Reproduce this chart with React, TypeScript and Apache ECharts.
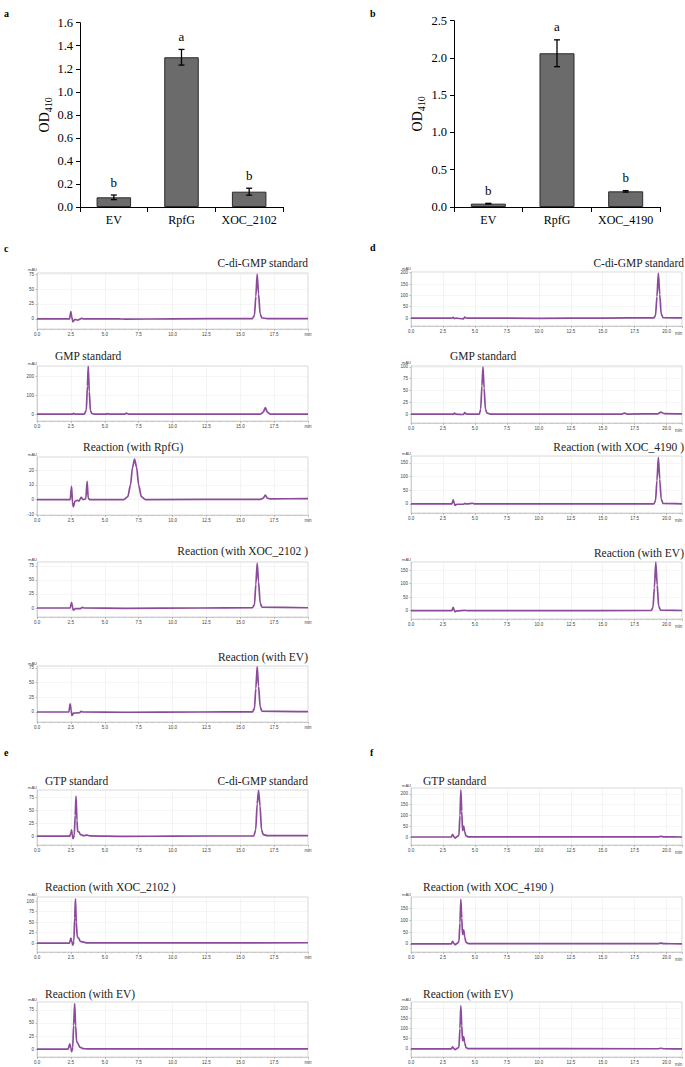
import React, { useEffect, useRef } from 'react';
import * as echarts from 'echarts';

// ---------- Bar chart data ----------
const catsA = ['EV', 'RpfG', 'XOC_2102'];
const valsA = [0.084, 1.30, 0.133];
const errsA = [0.02, 0.068, 0.03];
const lettersA = ['b', 'a', 'b'];

const catsB = ['EV', 'RpfG', 'XOC_4190'];
const valsB = [0.045, 2.063, 0.21];
const errsB = [0.004, 0.18, 0.01];
const lettersB = ['b', 'a', 'b'];

// ---------- Chromatogram data: [time (min), signal (mAU)] ----------
const chromC1 = [[0,0],[2.4,0],[2.5,12],[2.56,4],[2.65,-5],[2.8,-1],[3.0,-2],[3.3,1],[3.4,0],[6,0],[6.5,-0.5],[10,0],[15.9,0.5],[16.05,6],[16.15,38],[16.25,75],[16.35,42],[16.47,8],[16.6,1.5],[17,0.5],[20,0.5]];
const chromC2 = [[0,0],[2.6,0],[2.7,4],[2.8,0],[3.5,0],[3.64,22],[3.72,150],[3.78,255],[3.86,120],[3.94,18],[4.05,3],[4.2,0],[5.1,0],[5.2,2],[5.3,0],[6.5,0],[6.6,5],[6.75,0],[16.5,0],[16.7,10],[16.85,35],[17.0,10],[17.2,0],[20,0]];
const chromC3 = [[0,0],[2.45,0],[2.55,9],[2.62,-2],[2.68,-5],[2.8,-1],[3.0,-0.5],[3.1,-1],[3.25,1.5],[3.4,0],[3.6,0.5],[3.7,12.5],[3.78,1],[3.9,0],[6.4,0],[6.7,2],[6.9,10],[7.05,22],[7.2,27.5],[7.35,22],[7.5,10],[7.7,2],[8.0,0],[16.5,0.2],[16.7,1],[16.85,3],[17.0,1],[17.2,0.5],[20,0.7]];
const chromC4 = [[0,0],[2.45,0],[2.55,10],[2.62,2],[2.68,-4],[2.85,-1],[3.2,-1],[3.35,1],[3.5,0],[6.5,-0.5],[12,0],[15.9,0.5],[16.05,6],[16.15,42],[16.25,80],[16.35,47],[16.47,9],[16.6,1.5],[20,0.5]];
const chromC5 = [[0,0],[2.35,0],[2.45,14],[2.52,3],[2.58,-6],[2.7,-2],[3.0,-1.5],[3.15,-1],[3.25,1],[3.4,0],[6.5,-0.5],[12,0],[15.9,0.3],[16.05,6],[16.15,40],[16.25,77],[16.35,44],[16.47,9],[16.6,1.5],[20,0.5]];

const chromD1 = [[0,0],[3.2,0],[3.3,3],[3.4,-3],[3.5,0],[4.1,-4],[4.2,4],[4.35,0],[10,-1],[15,0],[19.0,1],[19.13,12],[19.24,95],[19.35,198],[19.46,105],[19.57,18],[19.72,2],[21.2,0.5]];
const chromD2 = [[0,0],[3.2,0],[3.3,-1],[3.4,2],[3.5,0],[4.1,-1],[4.2,3],[4.35,0],[5.35,0],[5.45,10],[5.55,60],[5.63,100],[5.72,55],[5.82,10],[5.95,2],[6.2,0],[16.5,0],[16.7,2],[16.9,0],[19.3,0.5],[19.55,4],[19.8,1],[21.2,0.5]];
const chromD3 = [[0,0],[3.2,0],[3.3,15],[3.38,3],[3.45,-5],[3.6,-1],[4.1,-1],[4.2,2],[4.35,0],[4.85,2.5],[4.95,0],[10,0],[19,0.5],[19.13,12],[19.24,85],[19.35,170],[19.46,90],[19.57,18],[19.72,2],[21.2,0.5]];
const chromD4 = [[0,0],[3.2,0],[3.3,12],[3.38,2],[3.45,-4],[3.6,-1],[4.2,1],[4.4,0],[10,0],[18.8,0.5],[18.93,12],[19.04,85],[19.15,180],[19.26,95],[19.37,18],[19.52,2],[21.2,0.5]];

const chromE1 = [[0,0],[2.4,0],[2.5,5],[2.55,12],[2.6,3],[2.66,-5],[2.75,2],[2.82,40],[2.88,77],[2.95,30],[3.0,9],[3.1,8],[3.2,3],[3.4,1],[3.7,2],[3.9,0.5],[6.5,-0.5],[10,0],[16.0,0.5],[16.14,12],[16.25,62],[16.35,88],[16.46,58],[16.57,12],[16.7,3],[17,1],[20,1]];
const chromE2 = [[0,0],[2.4,0],[2.5,12],[2.58,2],[2.65,-5],[2.72,5],[2.78,60],[2.84,105],[2.9,50],[2.97,15],[3.07,12],[3.2,4],[3.5,2],[3.7,0.5],[20,1]];
const chromE3 = [[0,0],[2.3,0],[2.42,10],[2.5,2],[2.56,-5],[2.64,3],[2.7,45],[2.78,87],[2.85,45],[2.92,15],[3.0,12],[3.15,4],[3.4,1],[3.7,0.5],[20,0.5]];

const chromF1 = [[0,0],[3.15,0],[3.25,12],[3.35,2],[3.45,-5],[3.6,2],[3.75,8],[3.83,100],[3.9,218],[3.97,120],[4.03,30],[4.12,50],[4.2,25],[4.3,5],[4.5,1],[19.3,0.5],[19.55,3],[19.8,0.5],[21.2,0]];
const chromF2 = [[0,0],[3.15,0],[3.25,10],[3.35,2],[3.45,-4],[3.6,2],[3.75,8],[3.83,90],[3.9,190],[3.97,110],[4.03,40],[4.12,60],[4.2,30],[4.3,6],[4.5,1],[19.3,0.5],[19.55,3],[19.8,0.5],[21.2,0]];
const chromF3 = [[0,0],[3.15,0],[3.25,10],[3.35,2],[3.45,-4],[3.6,2],[3.75,8],[3.83,100],[3.9,212],[3.97,115],[4.03,40],[4.12,60],[4.2,30],[4.3,6],[4.5,1],[19.3,0.5],[19.55,3],[19.8,0.5],[21.2,0]];

// ---------- Tick values ----------
const ticks75 = [0, 25, 50, 75];
const ticks100by25 = [0, 25, 50, 75, 100];
const ticks200by100 = [0, 100, 200];
const ticksRpfG = [-10, 0, 10, 20];
const ticks200by50 = [0, 50, 100, 150, 200];
const ticks150by50 = [0, 50, 100, 150];

const SERIF = "'Liberation Serif', 'Times New Roman', serif";
const SANS = "'Liberation Sans', Arial, sans-serif";
const PURPLE = '#8c4a9a';

type Chrom = {
  data: number[][]; ticks: number[]; left: number; top: number; w: number; h: number;
  xmax: number; ymin: number; ymax: number; minName: boolean;
  titles: { text: string; x: number; y: number; align: string }[];
};

const chroms: Chrom[] = [
  { data: chromC1, ticks: ticks75, left: 37, top: 273, w: 271, h: 56, xmax: 20, ymin: -17, ymax: 77, minName: false,
    titles: [{ text: 'C-di-GMP standard', x: 308, y: 263, align: 'right' }] },
  { data: chromC2, ticks: ticks200by100, left: 37, top: 366, w: 271, h: 55, xmax: 20, ymin: -37, ymax: 257, minName: false,
    titles: [{ text: 'GMP standard', x: 55, y: 356, align: 'left' }] },
  { data: chromC3, ticks: ticksRpfG, left: 37, top: 457, w: 271, h: 58, xmax: 20, ymin: -10.5, ymax: 29, minName: false,
    titles: [{ text: 'Reaction (with RpfG)', x: 83, y: 447, align: 'left' }] },
  { data: chromC4, ticks: ticks75, left: 37, top: 562, w: 271, h: 55, xmax: 20, ymin: -16, ymax: 82, minName: false,
    titles: [{ text: 'Reaction (with XOC_2102 )', x: 308, y: 551, align: 'right' }] },
  { data: chromC5, ticks: ticks75, left: 37, top: 666, w: 271, h: 56, xmax: 20, ymin: -17, ymax: 78, minName: false,
    titles: [{ text: 'Reaction (with EV)', x: 308, y: 657, align: 'right' }] },

  { data: chromD1, ticks: ticks200by50, left: 411, top: 272, w: 272, h: 54, xmax: 21.2, ymin: -35, ymax: 203, minName: true,
    titles: [{ text: 'C-di-GMP standard', x: 684, y: 263, align: 'right' }] },
  { data: chromD2, ticks: ticks100by25, left: 411, top: 366, w: 272, h: 57, xmax: 21.2, ymin: -19, ymax: 102, minName: true,
    titles: [{ text: 'GMP standard', x: 450, y: 356, align: 'left' }] },
  { data: chromD3, ticks: ticks150by50, left: 411, top: 456, w: 272, h: 57, xmax: 21.2, ymin: -33, ymax: 175, minName: true,
    titles: [{ text: 'Reaction (with XOC_4190 )', x: 684, y: 447, align: 'right' }] },
  { data: chromD4, ticks: ticks150by50, left: 411, top: 562, w: 272, h: 57, xmax: 21.2, ymin: -31, ymax: 180, minName: true,
    titles: [{ text: 'Reaction (with EV)', x: 684, y: 553, align: 'right' }] },

  { data: chromE1, ticks: ticks75, left: 37, top: 790, w: 271, h: 55, xmax: 20, ymin: -17, ymax: 88.5, minName: false,
    titles: [{ text: 'GTP standard', x: 45, y: 781, align: 'left' }, { text: 'C-di-GMP standard', x: 308, y: 781, align: 'right' }] },
  { data: chromE2, ticks: ticks100by25, left: 37, top: 897, w: 271, h: 55, xmax: 20, ymin: -21, ymax: 109.5, minName: false,
    titles: [{ text: 'Reaction (with XOC_2102 )', x: 45, y: 887, align: 'left' }] },
  { data: chromE3, ticks: ticks75, left: 37, top: 1002, w: 271, h: 55, xmax: 20, ymin: -15, ymax: 90, minName: false,
    titles: [{ text: 'Reaction (with EV)', x: 45, y: 994, align: 'left' }] },

  { data: chromF1, ticks: ticks200by50, left: 411, top: 788, w: 272, h: 57, xmax: 21.2, ymin: -37, ymax: 227, minName: true,
    titles: [{ text: 'GTP standard', x: 423, y: 781, align: 'left' }] },
  { data: chromF2, ticks: ticks150by50, left: 411, top: 897, w: 272, h: 55, xmax: 21.2, ymin: -35, ymax: 200, minName: true,
    titles: [{ text: 'Reaction (with XOC_4190 )', x: 423, y: 887, align: 'left' }] },
  { data: chromF3, ticks: ticks200by50, left: 411, top: 1002, w: 272, h: 55, xmax: 21.2, ymin: -40, ymax: 230, minName: true,
    titles: [{ text: 'Reaction (with EV)', x: 423, y: 994, align: 'left' }] },
];

const panelLetters = [
  { t: 'a', x: 4, y: 13 }, { t: 'b', x: 370, y: 13 },
  { t: 'c', x: 4, y: 248 }, { t: 'd', x: 370, y: 247 },
  { t: 'e', x: 4, y: 752 }, { t: 'f', x: 370, y: 752 },
];

function buildOption() {
  const grid: any[] = [];
  const xAxis: any[] = [];
  const yAxis: any[] = [];
  const series: any[] = [];
  const graphic: any[] = [];

  const barPanels = [
    { cats: catsA, vals: valsA, errs: errsA, letters: lettersA, left: 80, top: 22.7, w: 203, h: 184.3, max: 1.6, interval: 0.2, gap: 27 },
    { cats: catsB, vals: valsB, errs: errsB, letters: lettersB, left: 454, top: 20.7, w: 206, h: 186.3, max: 2.5, interval: 0.5, gap: 28 },
  ];

  barPanels.forEach((p) => {
    const gi = grid.length;
    grid.push({ left: p.left, top: p.top, width: p.w, height: p.h, containLabel: false });
    xAxis.push({
      type: 'category', gridIndex: gi, data: p.cats,
      axisLine: { lineStyle: { color: '#000', width: 1 } },
      axisTick: { show: true, alignWithLabel: false, interval: 0, length: 5, lineStyle: { color: '#000' } },
      axisLabel: { color: '#000', fontFamily: SERIF, fontSize: 12, margin: 7, interval: 0, hideOverlap: false },
    });
    yAxis.push({
      type: 'value', gridIndex: gi, min: 0, max: p.max, interval: p.interval,
      axisLine: { show: true, lineStyle: { color: '#000', width: 1 } },
      axisTick: { show: true, length: 4, lineStyle: { color: '#000' } },
      splitLine: { show: false },
      axisLabel: { color: '#000', fontFamily: SERIF, fontSize: 12.5, margin: 7, formatter: (v: number) => v.toFixed(1) },
      name: '{a|OD}{b|410}', nameLocation: 'middle', nameRotate: 90, nameGap: p.gap,
      nameTextStyle: {
        color: '#000', fontFamily: SERIF,
        rich: {
          a: { fontSize: 14, fontFamily: SERIF, color: '#000', lineHeight: 16, verticalAlign: 'top' },
          b: { fontSize: 10, fontFamily: SERIF, color: '#000', lineHeight: 12, padding: [6, 0, 0, 0], verticalAlign: 'bottom' },
        },
      },
    });
    series.push({
      type: 'bar', xAxisIndex: gi, yAxisIndex: gi, data: p.vals, barWidth: '51%',
      itemStyle: { color: '#6b6b6b', borderColor: '#2b2b2b', borderWidth: 1 },
    });
    const letters = p.letters;
    series.push({
      type: 'custom', xAxisIndex: gi, yAxisIndex: gi, z: 5,
      data: p.vals.map((v, i) => [i, v - p.errs[i], v + p.errs[i]]),
      renderItem: (params: any, api: any) => {
        const x = api.value(0);
        const lo = api.coord([x, api.value(1)]);
        const hi = api.coord([x, api.value(2)]);
        const w = 3;
        const st = { stroke: '#000', lineWidth: 1.3 };
        return {
          type: 'group',
          children: [
            { type: 'line', shape: { x1: lo[0], y1: lo[1], x2: hi[0], y2: hi[1] }, style: st },
            { type: 'line', shape: { x1: lo[0] - w, y1: lo[1], x2: lo[0] + w, y2: lo[1] }, style: st },
            { type: 'line', shape: { x1: hi[0] - w, y1: hi[1], x2: hi[0] + w, y2: hi[1] }, style: st },
            {
              type: 'text', x: hi[0], y: hi[1] - 13,
              style: { text: letters[params.dataIndex], align: 'center', verticalAlign: 'middle', font: `13px ${SERIF}`, fill: '#000' },
            },
          ],
        };
      },
    });
  });

  chroms.forEach((c) => {
    const gi = grid.length;
    grid.push({ left: c.left, top: c.top, width: c.w, height: c.h, show: true, borderColor: '#cfcfcf', borderWidth: 0.8, backgroundColor: '#fff' });
    xAxis.push({
      type: 'value', gridIndex: gi, min: 0, max: c.xmax, interval: 2.5,
      axisLine: { onZero: false, lineStyle: { color: '#bbb', width: 0.6 } },
      axisTick: { show: true, length: 2, lineStyle: { color: '#888', width: 0.5 } },
      minorTick: { show: true, splitNumber: 5, length: 1.2, lineStyle: { color: '#999', width: 0.4 } },
      splitLine: { show: true, lineStyle: { color: '#ececec', width: 0.6 } },
      axisLabel: {
        fontSize: 4.5, fontFamily: SANS, color: '#444', margin: 3, showMaxLabel: true, showMinLabel: true,
        formatter: (v: number) => {
          if (v > 20.01) return '';
          if (!c.minName && Math.abs(v - 20) < 1e-6) return 'min';
          return v.toFixed(1);
        },
      },
      name: c.minName ? 'min' : '',
      nameLocation: 'end', nameGap: 0,
      nameTextStyle: { fontSize: 4.5, fontFamily: SANS, color: '#444', align: 'right', verticalAlign: 'top', padding: [5, 0, 0, 0] },
    });
    yAxis.push({
      type: 'value', gridIndex: gi, min: c.ymin, max: c.ymax,
      axisLine: { show: true, lineStyle: { color: '#bbb', width: 0.6 } },
      axisTick: { show: true, length: 1.5, customValues: c.ticks, lineStyle: { color: '#888', width: 0.5 } },
      axisLabel: { fontSize: 4.5, fontFamily: SANS, color: '#444', margin: 3, customValues: c.ticks },
      splitLine: { show: true, lineStyle: { color: '#f0f0f0', width: 0.6 } },
      name: 'mAU', nameLocation: 'end', nameGap: 1,
      nameTextStyle: { fontSize: 4, fontFamily: SANS, color: '#444', align: 'right', verticalAlign: 'bottom' },
    });
    series.push({
      type: 'line', xAxisIndex: gi, yAxisIndex: gi, data: c.data, symbol: 'none',
      smooth: 0.25, smoothMonotone: 'x', clip: true,
      lineStyle: { color: PURPLE, width: 1.7 },
    });
    c.titles.forEach((t) => {
      graphic.push({
        type: 'text', x: t.x, y: t.y,
        style: { text: t.text, align: t.align, verticalAlign: 'middle', font: `11.5px ${SERIF}`, fill: '#222' },
      });
    });
  });

  panelLetters.forEach((p) => {
    graphic.push({
      type: 'text', x: p.x, y: p.y,
      style: { text: p.t, align: 'left', verticalAlign: 'middle', font: `bold 10px ${SERIF}`, fill: '#000' },
    });
  });

  return { animation: false, backgroundColor: '#fff', grid, xAxis, yAxis, series, graphic };
}

export default function App() {
  const ref = useRef<HTMLDivElement>(null);
  useEffect(() => {
    if (!ref.current) return;
    const chart = echarts.init(ref.current, undefined, { renderer: 'svg' });
    chart.setOption(buildOption() as any);
    return () => chart.dispose();
  }, []);
  return <div ref={ref} style={{ position: 'absolute', left: 0, top: 0, width: 685, height: 1067, background: '#fff' }} />;
}
